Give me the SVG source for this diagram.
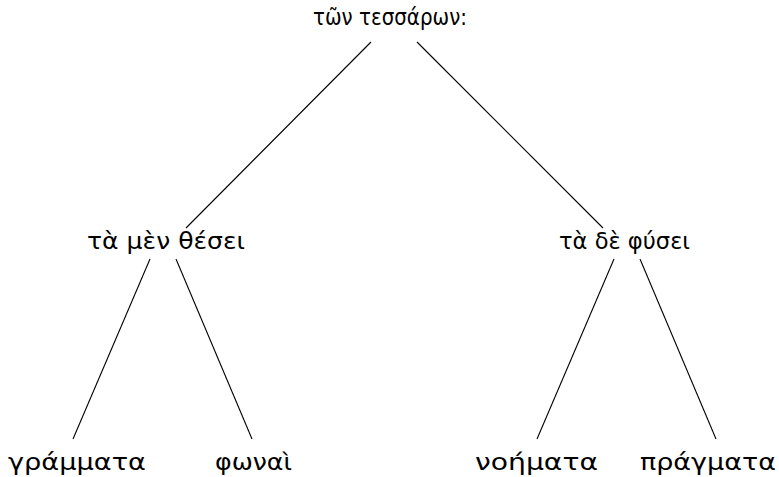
<svg xmlns="http://www.w3.org/2000/svg" width="779" height="477" viewBox="0 0 779 477">
<style>
text{font-family:"DejaVu Sans","Noto Sans",sans-serif;font-size:23px;fill:#000;text-anchor:middle}
.e{stroke:#000;stroke-width:1.1;fill:none}
</style>
<rect width="779" height="477" fill="#fff"/>
<g id="connectors">
<line class="e" x1="371" y1="42" x2="186" y2="228"/>
<line class="e" x1="417" y1="42" x2="603" y2="228"/>
<line class="e" x1="150" y1="259" x2="73" y2="439"/>
<line class="e" x1="176" y1="259" x2="252" y2="439"/>
<line class="e" x1="614" y1="259" x2="537" y2="439"/>
<line class="e" x1="640" y1="259" x2="716" y2="439"/>
</g>
<g id="root"><text x="390" y="25" textLength="154" lengthAdjust="spacingAndGlyphs">τῶν τεσσάρων:</text></g>
<g id="thesei"><text x="166" y="249" textLength="158" lengthAdjust="spacingAndGlyphs">τὰ μὲν θέσει</text></g>
<g id="physei"><text x="624.5" y="249" textLength="131" lengthAdjust="spacingAndGlyphs">τὰ δὲ φύσει</text></g>
<g id="grammata"><text x="77" y="470" textLength="138" lengthAdjust="spacingAndGlyphs">γράμματα</text></g>
<g id="phonai"><text x="253.5" y="470" textLength="77" lengthAdjust="spacingAndGlyphs">φωναὶ</text></g>
<g id="noemata"><text x="536.5" y="470" textLength="123" lengthAdjust="spacingAndGlyphs">νοήματα</text></g>
<g id="pragmata"><text x="708" y="470" textLength="136" lengthAdjust="spacingAndGlyphs">πράγματα</text></g>
</svg>
